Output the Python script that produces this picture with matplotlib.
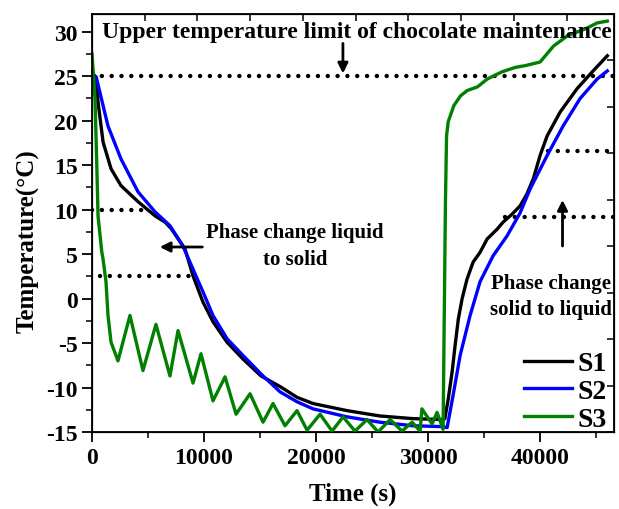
import matplotlib
matplotlib.use("Agg")
import matplotlib.pyplot as plt

plt.rcParams["axes.unicode_minus"] = False

# --- data ---
s1_time = [0, 360, 540, 990, 1700, 2590, 4110, 5630, 6520, 7050, 8300, 9020, 9910, 10800,
           12050, 13480, 15090, 16800, 18300, 19730, 22770, 25700, 28660, 31340, 31500, 31800,
           32140, 32410, 32700, 33040, 33480, 34020, 34640, 35270, 36160, 36700, 37500, 38200,
           38800, 39400, 40000, 40630, 41800, 43300, 44730, 46000]
s1_temp = [25.4, 24.9, 22.1, 17.6, 14.6, 12.7, 10.9, 9.3, 8.6, 7.9, 5.6, 2.55, -0.4, -2.6,
           -4.9, -6.8, -8.7, -9.9, -11.1, -11.8, -12.6, -13.2, -13.5, -13.6, -13.5, -11.3,
           -8.3, -5.3, -2.3, 0.0, 2.2, 4.1, 5.2, 6.7, 7.8, 8.6, 9.5, 10.4,
           11.7, 13.5, 16.1, 18.3, 21.0, 23.6, 25.6, 27.3]

s2_time = [0, 380, 1430, 2590, 4110, 5630, 6960, 8120, 9020, 9910, 10800, 12050, 13480, 15270,
           16800, 18300, 19730, 22770, 25700, 28660, 31340, 31700, 32230, 32860, 33750, 34640,
           35800, 37050, 38200, 39100, 40630, 42050, 43570, 45100, 46000]
s2_temp = [25.0, 24.9, 19.4, 15.7, 12.0, 9.75, 8.2, 5.9, 3.3, 0.75, -1.9, -4.5, -6.4, -8.7,
           -10.5, -11.6, -12.4, -13.3, -13.9, -14.3, -14.4, -14.5, -10.9, -6.4, -1.9, 1.9,
           4.8, 7.05, 9.6, 12.3, 16.1, 19.4, 22.5, 24.7, 25.6]

s3_time = [0, 270, 430, 540, 870, 980, 1250, 1430, 1700, 2320, 3390, 4550, 5710, 6960, 7680,
           9020, 9730, 10800, 11880, 12860, 14110, 15270, 16160, 17230, 18300, 19200, 20360,
           21430, 22410, 23480, 24550, 25540, 26610, 27680, 28570, 29290, 29450, 30360, 30800,
           31340, 31550, 31650, 31800, 32300, 32900, 33500, 34400, 35300, 36600, 37800, 38700,
           40000, 41200, 42500, 44000, 45100, 46000]
s3_temp = [27.5, 22.5, 15.0, 9.3, 5.3, 4.5, 1.9, -1.9, -4.9, -7.0, -1.9, -8.1, -2.9, -8.7, -3.6,
           -9.5, -6.2, -11.5, -8.8, -13.0, -10.7, -13.9, -11.8, -14.3, -12.6, -14.8, -13.0,
           -14.9, -13.3, -14.9, -13.6, -15.0, -13.6, -14.9, -13.9, -14.9, -12.4, -14.1, -12.8,
           -14.7, 10.9, 18.3, 19.9, 21.7, 22.8, 23.4, 23.8, 24.7, 25.5, 26.0, 26.2,
           26.6, 28.4, 29.6, 30.3, 31.0, 31.2]

series_names = ["S1", "S2", "S3"]
series_colors = ["black", "blue", "green"]

# dotted reference levels: (temperature, start time, end time)
ref_levels = [25, 10, 2.5, 16.6, 9.2]
ref_starts = [0, 0, 700, 40700, 36900]
ref_ends = [46600, 4600, 9200, 46600, 46600]

FONT = "Liberation Serif"

fig = plt.figure(figsize=(6.19, 5.10), dpi=100)
ax = fig.add_axes([0.1486, 0.151, 0.8434, 0.8196])

for t, v, name, c in zip([s1_time, s2_time, s3_time], [s1_temp, s2_temp, s3_temp],
                         series_names, series_colors):
    ax.plot(t, v, color=c, lw=2.4, label=name, zorder=3, solid_joinstyle="round")

for lvl, x0, x1 in zip(ref_levels, ref_starts, ref_ends):
    ax.plot([x0, x1], [lvl, lvl], color="black", lw=3.2, linestyle=(0, (0.01, 2.2)),
            dash_capstyle="round", zorder=2)

ax.set_xlim(0, 46600)
ax.set_ylim(-15, 32)
ax.set_xticks([0, 10000, 20000, 30000, 40000])
ax.set_xticks([5000, 15000, 25000, 35000, 45000], minor=True)
ax.set_yticks([-15, -10, -5, 0, 5, 10, 15, 20, 25, 30])
ax.set_yticks([-12.5, -7.5, -2.5, 2.5, 7.5, 12.5, 17.5, 22.5, 27.5], minor=True)
ax.tick_params(which="major", direction="out", length=7, width=1.3, labelsize=17)
ax.tick_params(which="minor", direction="out", length=4, width=1.1)
for lab in ax.get_xticklabels() + ax.get_yticklabels():
    lab.set_fontfamily(FONT)
    lab.set_fontweight("bold")
for sp in ax.spines.values():
    sp.set_linewidth(1.3)

# top / right mirror ticks on their own scale
top = ax.twiny()
top.set_xlim(0, 9.9)
top.set_xticks(range(10))
top.tick_params(direction="in", length=5, width=1.1, labeltop=False)
right = ax.twinx()
right.set_ylim(0, 9)
right.set_yticks(range(10))
right.tick_params(direction="in", length=5, width=1.1, labelright=False)

ax.set_xlabel("Time (s)", fontfamily=FONT, fontweight="bold", fontsize=18, labelpad=10)
ax.set_ylabel("Temperature(°C)", fontfamily=FONT, fontweight="bold", fontsize=18)
ax.yaxis.set_label_coords(-0.1, 0.46)

ax.text(900, 30, "Upper temperature limit of chocolate maintenance", fontfamily=FONT,
        fontweight="bold", fontsize=17, va="center", ha="left", clip_on=True)
ax.text(18100, 6.0, "Phase change liquid\nto solid", fontfamily=FONT, fontweight="bold",
        fontsize=15, ha="center", va="center", linespacing=1.45)
ax.text(41000, 0.3, "Phase change\nsolid to liquid", fontfamily=FONT, fontweight="bold",
        fontsize=15, ha="center", va="center", linespacing=1.45, clip_on=True)

arrow = dict(arrowstyle="-|>,head_length=0.6,head_width=0.3", color="black", lw=2)
ax.annotate("", xy=(22400, 25.0), xytext=(22400, 29.0), arrowprops=arrow)
ax.annotate("", xy=(5800, 5.8), xytext=(10100, 5.8), arrowprops=arrow)
ax.annotate("", xy=(42000, 11.4), xytext=(42000, 5.6), arrowprops=arrow)

ax.legend(loc="lower right", bbox_to_anchor=(1.0, -0.016), frameon=False,
          handlelength=1.75, handletextpad=0.2, labelspacing=0.08, borderaxespad=0.0,
          borderpad=0.25, prop={"family": FONT, "weight": "bold", "size": 20})

fig.savefig("out.png", dpi=100)
